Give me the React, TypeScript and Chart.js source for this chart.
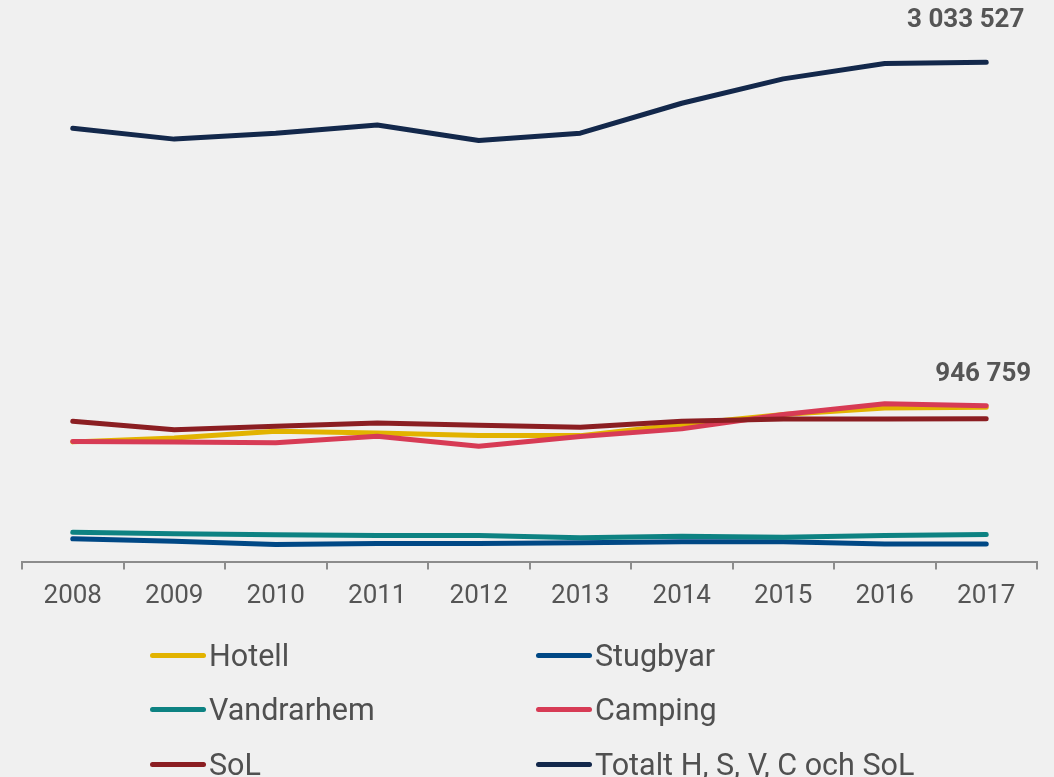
import React, { useEffect, useRef } from "react";
import { Chart, registerables } from "chart.js";

Chart.register(...registerables);

const years = ["2008", "2009", "2010", "2011", "2012", "2013", "2014", "2015", "2016", "2017"];

const hotell = [727000, 751000, 791000, 781000, 765000, 765000, 832000, 893000, 933000, 937000];
const stugbyar = [138000, 123000, 103000, 109000, 109000, 114000, 120000, 120000, 107000, 107000];
const vandrarhem = [178000, 168000, 162000, 158000, 158000, 144000, 154000, 148000, 158000, 164000];
const camping = [730000, 727000, 721000, 761000, 700000, 760000, 806000, 893000, 959000, 946759];
const sol = [852000, 801000, 822000, 842000, 828000, 816000, 852000, 866000, 866000, 868000];
const totalt = [2633000, 2567000, 2603000, 2653000, 2558000, 2603000, 2785000, 2933000, 3027000, 3033527];

const seriesNames = ["Hotell", "Stugbyar", "Vandrarhem", "Camping", "SoL", "Totalt H, S, V, C och SoL"];
const seriesColors = ["#e2b300", "#004885", "#0d8282", "#d73b55", "#8b1e22", "#13284b"];
const seriesValues = [hotell, stugbyar, vandrarhem, camping, sol, totalt];

// value labels: dataset index, point index, offset from point
const valueLabels = [
  { ds: 5, idx: 9, dx: -20.5, dy: -41.5 },
  { ds: 3, idx: 9, dx: -3, dy: -31 },
];

const legendCols = [150, 536];
const legendRows = [655, 709.5, 764];

function fmt(v: number): string {
  return String(Math.round(v)).replace(/\B(?=(\d{3})+(?!\d))/g, " ");
}

const valueLabelPlugin = {
  id: "valueLabels",
  afterDatasetsDraw(chart: any) {
    const ctx = chart.ctx;
    ctx.save();
    ctx.font = "bold 26px Roboto";
    ctx.fillStyle = "#555555";
    ctx.textAlign = "center";
    ctx.textBaseline = "middle";
    valueLabels.forEach((l) => {
      const meta = chart.getDatasetMeta(l.ds);
      const pt = meta.data[l.idx];
      const v = chart.data.datasets[l.ds].data[l.idx];
      ctx.fillText(fmt(v), pt.x + l.dx, pt.y + l.dy);
    });
    ctx.restore();
  },
};

export default function App() {
  const canvasRef = useRef<HTMLCanvasElement>(null);

  useEffect(() => {
    document.body.style.margin = "0";
    const canvas = canvasRef.current;
    if (!canvas) return;
    const chart = new Chart(canvas, {
      type: "line",
      data: {
        labels: years,
        datasets: seriesValues.map((vals, i) => ({
          label: seriesNames[i],
          data: vals,
          borderColor: seriesColors[i],
          backgroundColor: seriesColors[i],
          borderWidth: 5,
          borderCapStyle: "round",
          borderJoinStyle: "round",
          pointRadius: 0,
          pointHoverRadius: 0,
          tension: 0,
          fill: false,
          order: seriesValues.length - i,
        })),
      },
      options: {
        animation: false,
        responsive: false,
        events: [],
        layout: { padding: { left: 22, right: 17, top: 18.5, bottom: 153.3 } },
        plugins: {
          legend: { display: false },
          tooltip: { enabled: false },
        },
        scales: {
          x: {
            offset: true,
            grid: {
              display: true,
              drawOnChartArea: false,
              drawTicks: true,
              tickLength: 8,
              color: "#8c8c8c",
              lineWidth: 2,
              offset: true,
            },
            border: { display: true, color: "#8c8c8c", width: 2 },
            ticks: {
              color: "#555555",
              font: { family: "Roboto", size: 26 },
              padding: 11.5,
              maxRotation: 0,
              autoSkip: false,
            },
          },
          y: { display: false, min: 0, max: 3300000 },
        },
      },
      plugins: [valueLabelPlugin],
    } as any);
    return () => chart.destroy();
  }, []);

  return (
    <div
      style={{
        position: "absolute",
        left: 0,
        top: 0,
        width: 1054,
        height: 777,
        background: "#f0f0f0",
        overflow: "hidden",
      }}
    >
      <canvas ref={canvasRef} width={1054} height={777} style={{ position: "absolute", left: 0, top: 0 }} />
      {seriesNames.map((name, i) => (
        <div
          key={name}
          style={{
            position: "absolute",
            left: legendCols[i % 2],
            top: legendRows[Math.floor(i / 2)] - 20,
            height: 40,
            display: "flex",
            alignItems: "center",
            whiteSpace: "nowrap",
          }}
        >
          <span
            style={{
              display: "inline-block",
              width: 56,
              height: 5,
              borderRadius: 3,
              background: seriesColors[i],
              marginRight: 3,
            }}
          />
          <span style={{ fontFamily: "Roboto", fontSize: 30.5, color: "#505050" }}>{name}</span>
        </div>
      ))}
    </div>
  );
}
